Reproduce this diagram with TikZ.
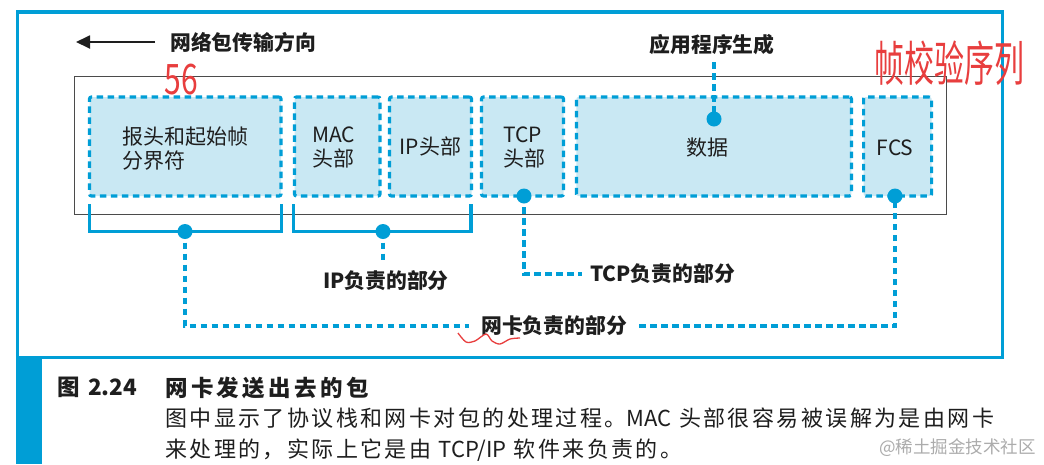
\documentclass[tikz,border=0pt]{standalone}
\usepackage{fontspec}
\setmainfont{Noto Sans CJK SC}
\usetikzlibrary{arrows.meta}
\definecolor{nicblue}{RGB}{0,158,214}
\definecolor{nicfill}{RGB}{201,232,243}
\definecolor{ink}{RGB}{30,30,30}
\definecolor{hand}{RGB}{232,62,62}
\definecolor{wmark}{RGB}{172,172,172}
\newcommand{\lat}[1]{{\addfontfeature{LetterSpace=0}#1}}
\begin{document}
\begin{tikzpicture}[x=1pt,y=-1pt,
  field/.style={draw=nicblue, fill=nicfill, line width=3.2pt, dash pattern=on 6.5pt off 4.5pt, rounded corners=2pt, minimum height=99pt, inner sep=0pt},
  link/.style={draw=nicblue, line width=3.2pt, dash pattern=on 6.5pt off 4.5pt},
  brace/.style={draw=nicblue, line width=3.2pt},
  dotn/.style={circle, fill=nicblue, inner sep=0pt, minimum size=15pt},
  lab/.style={font=\fontsize{20.8}{24}\selectfont\bfseries, text=ink, inner sep=0pt},
  txt/.style={font=\fontsize{21}{24.5}\selectfont, text=ink, align=left, inner sep=0pt},
  captitle/.style={font=\fontsize{22.5}{26}\selectfont\bfseries\addfontfeature{LetterSpace=15}, text=ink, inner sep=0pt, anchor=west},
  capbody/.style={font=\fontsize{22}{26}\selectfont\addfontfeature{LetterSpace=11}, text=ink, inner sep=0pt, anchor=west},
  handw/.style={text=hand, inner sep=0pt, font=\fontsize{30}{30}\selectfont}
]
\useasboundingbox (0,0) rectangle (1044,464);
\fill[white] (0,0) rectangle (1044,464);

% outer frame and caption bar
\draw[nicblue, line width=3.5pt] (17.5,12) rectangle (1002.5,357.5);
\fill[nicblue] (15.75,357.5) rectangle (42,464);

% direction arrow
\coordinate (arrS) at (155,42);
\coordinate (arrE) at (76,42);
\draw[ink, line width=1.8pt, -{Triangle[length=14pt,width=13pt]}] (arrS) -- (arrE);
\node[lab, anchor=west] (ldir) at (170,42) {网络包传输方向};

% packet box
\draw[ink!80, line width=1pt, fill=white] (74,76) rectangle (946,214);

% fields
\node[field, minimum width=191.5pt] (fpre) at (185.25,146.5) {};
\node[field, minimum width=85.5pt] (fmac) at (337.25,146.5) {};
\node[field, minimum width=82pt] (fip) at (430.5,146.5) {};
\node[field, minimum width=82pt] (ftcp) at (522.5,146.5) {};
\node[field, minimum width=275pt] (fdata) at (713.9,146.5) {};
\node[field, minimum width=68pt] (ffcs) at (897.6,146.5) {};

\node[txt, anchor=west] (tpre) at (122,148.5) {报头和起始帧\\分界符};
\node[txt, anchor=west] (tmac) at (312,147.5) {MAC\\头部};
\node[txt] (tip) at (fip) {IP头部};
\node[txt, anchor=west] (ttcp) at (503,147.5) {TCP\\头部};
\node[txt] (tdata) at (707,148) {数据};
\node[txt] (tfcs) at (895,148) {FCS};

% dot positions
\coordinate (ddata) at (714,119);
\coordinate (dtcp) at (524,196);
\coordinate (dfcs) at (895,196);
\coordinate (dnic) at (185,231.5);
\coordinate (dip) at (383,231.5);

% brackets
\coordinate (b1l) at (89.5,204);
\coordinate (b1r) at (281.5,204);
\coordinate (b2l) at (293.5,204);
\coordinate (b2r) at (471,204);
\draw[brace] (b1l) |- (dnic) -| (b1r);
\draw[brace] (b2l) |- (dip) -| (b2r);

% labels
\node[lab] (lapp) at (712,45) {应用程序生成};
\node[lab, anchor=west, inner xsep=8pt] (ltcp) at (582,274) {TCP负责的部分};
\node[lab] (lip) at (386,281) {IP负责的部分};
\node[lab, anchor=west, inner xsep=12pt] (lnic) at (469,326) {网卡负责的部分};

% connectors
\coordinate (appEnd) at (714,62);
\coordinate (ipEnd) at (383,262);
\draw[link] (appEnd) -- (ddata);
\draw[link] (dtcp) |- (ltcp.west);
\draw[link] (dip) -- (ipEnd);
\draw[link] (dnic) |- (lnic.west);
\draw[link] (lnic.east) -| (dfcs);

% dots
\node[dotn] (ndata) at (ddata) {};
\node[dotn] (ntcp) at (dtcp) {};
\node[dotn] (nfcs) at (dfcs) {};
\node[dotn] (nnic) at (dnic) {};
\node[dotn] (nip) at (dip) {};

% caption
\node[captitle] (cnum) at (57,387.5) {图 \lat{2.24}};
\node[captitle] (ctitle) at (165,387.5) {网卡发送出去的包};
\node[capbody] (cl1) at (165,418) {图中显示了协议栈和网卡对包的处理过程。\lat{MAC} 头部很容易被误解为是由网卡};
\node[capbody] (cl2) at (165,450) {来处理的，实际上它是由 \lat{TCP/IP} 软件来负责的。};

% watermark
\node[text=wmark, inner sep=0pt, anchor=east, font=\fontsize{17.5}{20}\selectfont] (wm) at (1036,448) {@稀土掘金技术社区};

% handwritten annotations
\node[handw] (h56) at (181,80) {\scalebox{1}[1.4]{56}};
\node[handw] (hfcs) at (949,63) {\scalebox{1}[1.6]{帧校验序列}};
\draw[hand, line width=1.3pt] plot[smooth] coordinates {(458,333) (466,342) (475,341) (486,334) (492,341) (500,344) (510,339) (520,338)};
\end{tikzpicture}
\end{document}
